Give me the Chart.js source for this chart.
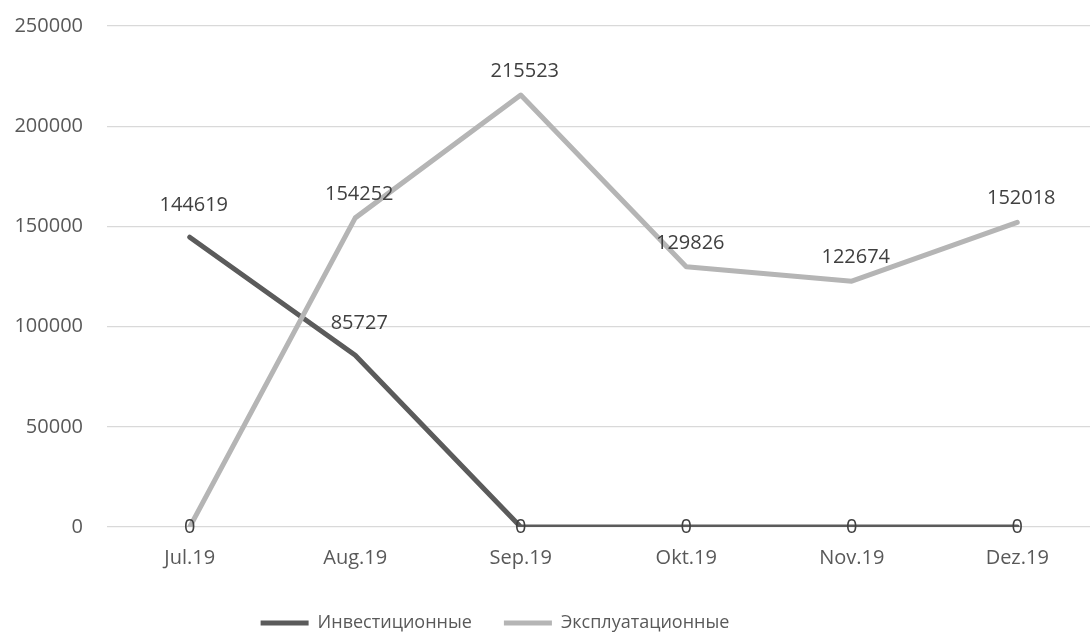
<!DOCTYPE html>
<html>
<head>
<meta charset="utf-8">
<script src="https://cdn.jsdelivr.net/npm/chart.js@4/dist/chart.umd.min.js"></script>
<style>
  html, body { margin: 0; padding: 0; background: #fff; overflow: hidden; }
  #wrap { width: 1090px; height: 642px; overflow: hidden; }
  #box { width: 1100px; height: 642px; position: relative; }
</style>
</head>
<body>
<div id="wrap"><div id="box"><canvas id="chart"></canvas></div></div>
<script>
const months = ['Jul.19', 'Aug.19', 'Sep.19', 'Okt.19', 'Nov.19', 'Dez.19'];
const investValues = [144619, 85727, 0, 0, 0, 0];
const operValues = [0, 154252, 215523, 129826, 122674, 152018];
const yTicks = [0, 50000, 100000, 150000, 200000, 250000];

const FONT = '"Open Sans", "Noto Sans", sans-serif';
const colors = {
    dark: '#5b5b5b',
    light: '#b5b5b5',
    text: '#595959',
    label: '#404040',
    grid: '#d9d9d9'
};

// value labels: above each point, zeros sit right on the axis
const valueLabels = {
    id: 'valueLabels',
    afterDatasetsDraw(chart) {
        const ctx = chart.ctx;
        ctx.save();
        ctx.font = '20px ' + FONT;
        ctx.fillStyle = colors.label;
        ctx.textAlign = 'center';
        ctx.textBaseline = 'middle';
        chart.data.datasets.forEach((ds, i) => {
            const meta = chart.getDatasetMeta(i);
            meta.data.forEach((pt, j) => {
                const v = ds.data[j];
                const dy = v === 0 ? 0 : ds.labelLift;
                ctx.fillText(String(v), pt.x + (v === 0 ? 0 : 4), pt.y - dy);
            });
        });
        ctx.restore();
    }
};

// keep the legend under the middle of the visible area
const legendShift = {
    id: 'legendShift',
    afterLayout(chart) {
        if (chart.legend) {
            chart.legend.left -= 55;
            chart.legend.right -= 55;
        }
    }
};

new Chart(document.getElementById('chart'), {
    type: 'line',
    data: {
        labels: months,
        datasets: [
            {
                label: 'Инвестиционные',
                data: investValues,
                borderColor: colors.dark,
                backgroundColor: colors.dark,
                borderWidth: 5,
                pointRadius: 0,
                tension: 0,
                borderCapStyle: 'round',
                borderJoinStyle: 'round',
                order: 1,
                labelLift: 32
            },
            {
                label: 'Эксплуатационные',
                data: operValues,
                borderColor: colors.light,
                backgroundColor: colors.light,
                borderWidth: 5,
                pointRadius: 0,
                tension: 0,
                borderCapStyle: 'round',
                borderJoinStyle: 'round',
                order: 0,
                labelLift: 24
            }
        ]
    },
    options: {
        responsive: true,
        maintainAspectRatio: false,
        animation: false,
        layout: { padding: { top: 26, left: 0, right: 0, bottom: 0 } },
        plugins: {
            tooltip: { enabled: false },
            legend: {
                position: 'bottom',
                labels: {
                    boxWidth: 48,
                    boxHeight: 5,
                    padding: 32,
                    color: colors.text,
                    font: { family: FONT, size: 18 },
                    generateLabels(chart) {
                        return chart.data.datasets.map((ds, i) => ({
                            text: ds.label,
                            fillStyle: ds.borderColor,
                            strokeStyle: ds.borderColor,
                            lineWidth: 0,
                            fontColor: colors.text,
                            datasetIndex: i
                        }));
                    }
                }
            }
        },
        scales: {
            x: {
                offset: true,
                grid: { display: false, drawTicks: false },
                border: { display: false },
                ticks: {
                    color: colors.text,
                    padding: 19,
                    maxRotation: 0,
                    font: { family: FONT, size: 20 }
                },
                afterFit(scale) { scale.height = 55; }
            },
            y: {
                min: 0,
                max: 250000,
                afterBuildTicks(scale) { scale.ticks = yTicks.map((v) => ({ value: v })); },
                grid: { color: colors.grid, lineWidth: 1.3, drawTicks: false },
                border: { display: false },
                ticks: {
                    color: colors.text,
                    padding: 24,
                    font: { family: FONT, size: 20 },
                    callback: (v) => String(v)
                },
                afterFit(scale) {
                    scale.width = 107;
                    scale.paddingTop = 0;
                    scale.paddingBottom = 0;
                }
            }
        }
    },
    plugins: [valueLabels, legendShift]
});
</script>
</body>
</html>
